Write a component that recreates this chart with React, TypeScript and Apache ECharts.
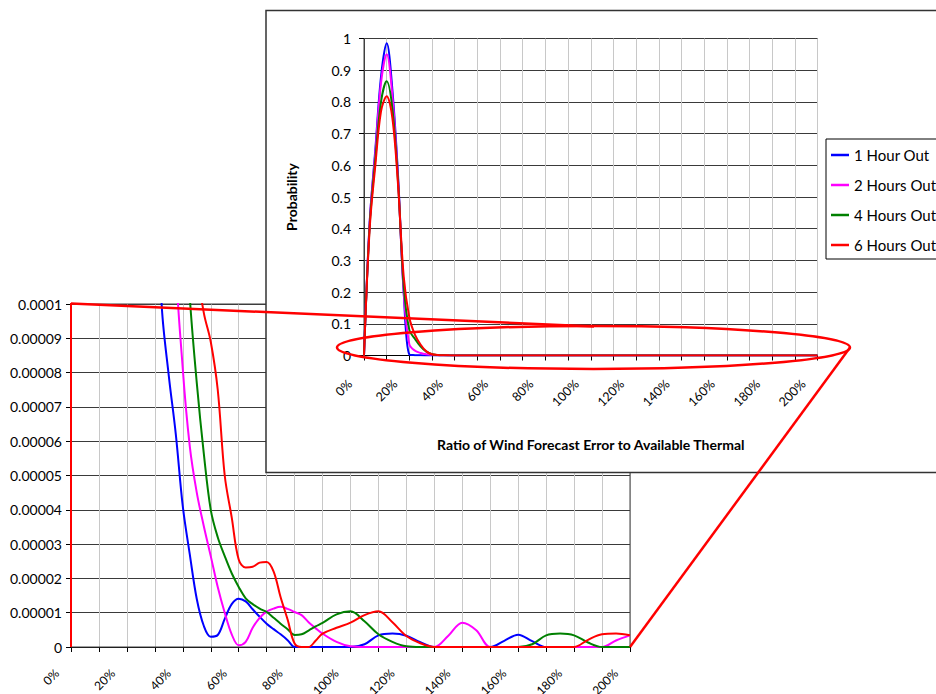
import React, { useEffect, useRef } from "react";
import * as echarts from "echarts";

// x positions of the data points (percent of available thermal)
const xPct = [
  0, 2.5, 5, 7.5, 10, 12.5, 15, 17.5, 20, 22.5, 25, 27.5, 30, 32.5, 35, 37.5, 40,
  42.5, 45, 47.5, 50, 52.5, 55, 57.5, 60, 62.5, 65, 67.5, 70, 72.5, 75, 77.5, 80,
  82.5, 85, 87.5, 90, 95, 100, 105, 110, 115, 120, 125, 130, 135, 140, 145, 150,
  155, 160, 165, 170, 175, 180, 185, 190, 195, 200,
];

const hour1 = [
  0, 0.42, 0.65, 0.88, 0.985, 0.84, 0.57, 0.2, 0.003, 0.0011, 0.0005, 0.00027, 0.00015,
  0.000099, 0.000079, 0.000062, 0.000041, 0.000027, 0.000014, 0.0000062, 0.000003,
  0.0000035, 0.0000082, 0.0000125, 0.0000141, 0.0000133, 0.000011, 0.0000088,
  0.0000068, 0.0000052, 0.0000037, 0.000002, 0, 0, 0, 0, 0, 0, 0, 0.0000008,
  0.0000034, 0.0000039, 0.0000033, 0.0000014, 0, 0, 0, 0, 0, 0.0000018, 0.0000036,
  0.0000017, 0, 0, 0, 0, 0, 0, 0,
];

const hours2 = [
  0, 0.42, 0.64, 0.86, 0.95, 0.82, 0.56, 0.2, 0.035, 0.015, 0.008, 0.004, 0.002,
  0.0009, 0.0004, 0.000115, 0.000081, 0.0000585, 0.000045, 0.0000353, 0.0000265,
  0.0000175, 0.00001, 0.0000037, 0.0000005, 0.0000015, 0.0000056, 0.0000085,
  0.0000103, 0.0000112, 0.0000117, 0.0000111, 0.0000102, 0.0000093, 0.0000072,
  0.0000055, 0.0000039, 0.0000015, 0.0000002, 0, 0, 0, 0, 0, 0, 0.0000033,
  0.0000071, 0.0000049, 0, 0, 0, 0, 0, 0, 0, 0, 0, 0.0000019, 0.0000034,
];

const hours4 = [
  0, 0.41, 0.62, 0.8, 0.865, 0.78, 0.55, 0.22, 0.08, 0.052, 0.028, 0.012, 0.004,
  0.0015, 0.0006, 0.00028, 0.00014, 0.000102, 0.000077, 0.0000565, 0.00004,
  0.000032, 0.0000265, 0.0000215, 0.0000175, 0.0000142, 0.0000125, 0.0000112,
  0.0000102, 0.0000085, 0.0000068, 0.0000052, 0.0000035, 0.0000037, 0.0000048,
  0.000006, 0.000007, 0.0000095, 0.0000104, 0.0000075, 0.0000037, 0.0000015,
  0.0000002, 0, 0, 0, 0, 0, 0, 0, 0, 0.0000008, 0.0000034, 0.0000039, 0.0000034,
  0.0000013, 0, 0, 0,
];

const hours6 = [
  0, 0.4, 0.6, 0.77, 0.818, 0.75, 0.54, 0.25, 0.12, 0.065, 0.034, 0.013, 0.004,
  0.0018, 0.0009, 0.0005, 0.0003, 0.00017, 0.000112, 0.0000975, 0.000089, 0.000075,
  0.00005, 0.0000378, 0.0000255, 0.0000232, 0.0000234, 0.0000246, 0.0000248,
  0.000022, 0.0000145, 0.000008, 0.000001, 0, 0, 0.0000018, 0.0000039, 0.0000056,
  0.0000071, 0.0000093, 0.0000104, 0.0000072, 0.0000032, 0.0000011, 0, 0, 0, 0, 0,
  0, 0, 0, 0, 0, 0, 0.0000021, 0.0000037, 0.0000039, 0.0000034,
];

const seriesNames = ["1 Hour Out", "2 Hours Out", "4 Hours Out", "6 Hours Out"];
const seriesColors = ["#0000FF", "#FF00FF", "#008000", "#FF0000"];
const xAxisTitle = "Ratio of Wind Forecast Error to Available Thermal";
const yAxisTitle = "Probability";

const FONT = 'Lato, "Open Sans", sans-serif';

export default function App() {
  const ref = useRef<HTMLDivElement>(null);

  useEffect(() => {
    if (!ref.current) return;
    const chart = echarts.init(ref.current, null, { renderer: "svg" });
    const allData = [hour1, hours2, hours4, hours6];
    const pairs = (arr: number[]) => xPct.map((x, i) => [x, arr[i]]);

    const makeSeries = (idx: number) =>
      allData.map((d, k) => ({
        type: "line",
        name: seriesNames[k],
        xAxisIndex: idx,
        yAxisIndex: idx,
        data: pairs(d),
        symbol: "none",
        showSymbol: false,
        smooth: 0.35,
        clip: true,
        lineStyle: { color: seriesColors[k], width: 2 },
        itemStyle: { color: seriesColors[k] },
        z: idx === 0 ? 2 : 12,
        silent: true,
      }));

    const pctLabel = (v: number) => (Math.round(v) % 20 === 0 ? Math.round(v) + "%" : "");

    const xAxisCommon = (extra: any) => ({
      type: "value",
      min: 0,
      max: 200,
      interval: 10,
      axisLine: { show: true, lineStyle: { color: "#000", width: 1 } },
      axisTick: { show: true, length: 5, lineStyle: { color: "#000" } },
      splitLine: { show: true, lineStyle: { color: "#c8c8c8", width: 1 } },
      ...extra,
    });

    const option: any = {
      animation: false,
      backgroundColor: "#fff",
      grid: [
        {
          left: 71, top: 304, width: 559, height: 343,
          outerBoundsMode: "none", containLabel: false,
          show: true, borderColor: "#404040", borderWidth: 1, z: 1,
        },
        {
          left: 364, top: 38.5, width: 453.5, height: 317,
          outerBoundsMode: "none", containLabel: false,
          show: true, borderColor: "#404040", borderWidth: 1, z: 11,
        },
      ],
      xAxis: [
        xAxisCommon({
          gridIndex: 0,
          z: 0,
          axisLabel: {
            formatter: pctLabel,
            rotate: 45,
            margin: 10,
            padding: [0, 20, 0, 0],
            fontFamily: FONT,
            fontSize: 12,
            color: "#000",
          },
        }),
        xAxisCommon({
          gridIndex: 1,
          z: 11,
          name: xAxisTitle,
          nameLocation: "middle",
          nameGap: 82,
          nameTextStyle: { fontFamily: FONT, fontSize: 14, fontWeight: "bold", color: "#000" },
          axisLabel: {
            formatter: pctLabel,
            rotate: 45,
            margin: 12,
            padding: [0, 20, 0, 0],
            fontFamily: FONT,
            fontSize: 12.5,
            color: "#000",
          },
        }),
      ],
      yAxis: [
        {
          gridIndex: 0,
          type: "value",
          min: 0,
          max: 0.0001,
          interval: 0.00001,
          z: 0,
          axisLine: { show: true, lineStyle: { color: "#000" } },
          axisTick: { show: true, length: 5, lineStyle: { color: "#000" } },
          splitLine: { show: true, lineStyle: { color: "#3a3a3a", width: 1 } },
          axisLabel: {
            formatter: (v: number) => (v === 0 ? "0" : String(parseFloat(v.toFixed(6)))),
            margin: 9,
            fontFamily: FONT,
            fontSize: 14,
            color: "#000",
          },
        },
        {
          gridIndex: 1,
          type: "value",
          min: 0,
          max: 1,
          interval: 0.1,
          z: 11,
          name: yAxisTitle,
          nameLocation: "middle",
          nameGap: 66,
          nameRotate: 90,
          nameTextStyle: { fontFamily: FONT, fontSize: 14, fontWeight: "bold", color: "#000" },
          axisLine: { show: true, lineStyle: { color: "#404040" } },
          axisTick: { show: true, length: 5, lineStyle: { color: "#000" } },
          splitLine: { show: true, lineStyle: { color: "#3a3a3a", width: 1 } },
          axisLabel: {
            formatter: (v: number) => String(Math.round(v * 10) / 10),
            margin: 13,
            fontFamily: FONT,
            fontSize: 14,
            color: "#000",
          },
        },
      ],
      legend: {
        data: seriesNames,
        orient: "vertical",
        left: 826,
        top: 139,
        icon: "rect",
        itemWidth: 18,
        itemHeight: 2.5,
        itemGap: 12,
        padding: [7, 30, 5, 5],
        borderColor: "#000",
        borderWidth: 1,
        backgroundColor: "#fff",
        textStyle: { fontFamily: FONT, fontSize: 15, color: "#000", lineHeight: 18 },
        z: 15,
      },
      graphic: [
        {
          type: "rect",
          shape: { x: 266, y: 10.5, width: 700, height: 462 },
          style: { fill: "#fff", stroke: "#333", lineWidth: 1.5 },
          z: 5,
          silent: true,
        },
        {
          type: "line",
          shape: { x1: 71, y1: 303.5, x2: 594, y2: 326.5 },
          style: { stroke: "#ff0000", lineWidth: 2.5 },
          z: 30,
          silent: true,
        },
        {
          type: "ellipse",
          shape: { cx: 593.5, cy: 347.5, rx: 256.5, ry: 21.5 },
          style: { fill: "transparent", stroke: "#ff0000", lineWidth: 2.5 },
          z: 30,
          silent: true,
        },
        {
          type: "line",
          shape: { x1: 850, y1: 347.5, x2: 630, y2: 647 },
          style: { stroke: "#ff0000", lineWidth: 2.5 },
          z: 30,
          silent: true,
        },
      ],
      series: [...makeSeries(0), ...makeSeries(1)],
    };

    chart.setOption(option);
    return () => chart.dispose();
  }, []);

  return (
    <div
      ref={ref}
      style={{ position: "absolute", left: 0, top: 0, width: 936, height: 694 }}
    />
  );
}
